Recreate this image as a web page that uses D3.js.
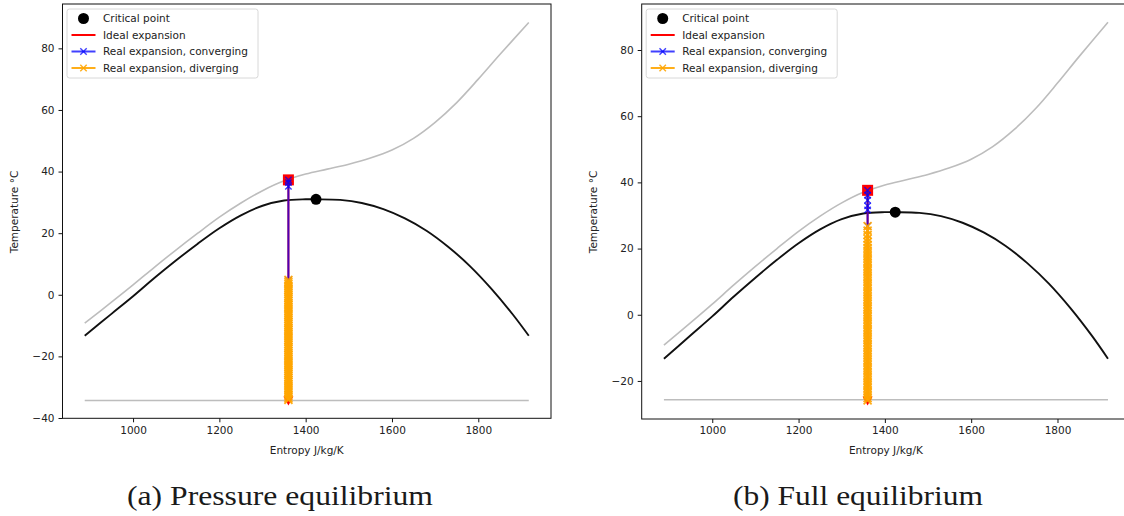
<!DOCTYPE html>
<html>
<head>
<meta charset="utf-8">
<script src="https://cdn.jsdelivr.net/npm/d3@7"></script>
<style>
  html, body { margin: 0; padding: 0; background: #fff; }
  svg { display: block; }
  .tick text { font-family: "DejaVu Sans", sans-serif; font-size: 10.5px; fill: #222; }
  .lbl { font-family: "DejaVu Sans", sans-serif; font-size: 10.5px; fill: #222; }
  .cap { font-family: "Liberation Serif", serif; font-size: 28px; fill: #1a1a1a; }
</style>
</head>
<body>
<svg id="chart" width="1124" height="516"></svg>
<script>
// Saturation dome of CO2 (entropy J/kg/K, temperature °C)
const domeEntropy = [888, 950, 1000, 1050, 1100, 1150, 1200, 1250, 1300, 1350, 1400, 1424, 1480, 1530, 1580, 1630, 1680, 1730, 1780, 1830, 1880, 1917];
const domeTemp    = [-13.3, -6.2, -0.5, 5.5, 11.2, 16.6, 21.6, 25.8, 28.9, 30.6, 31.0, 31.0, 30.8, 29.8, 27.8, 24.8, 20.8, 15.6, 9.4, 2.0, -6.4, -13.3];

// High-pressure isobar
const hiEntropy = [888, 950, 1000, 1050, 1100, 1150, 1200, 1250, 1300, 1350, 1400, 1450, 1500, 1550, 1600, 1650, 1700, 1750, 1800, 1850, 1917];
const hiTemp    = [-9.2, -2.4, 3.2, 9.0, 14.6, 20.0, 25.2, 29.8, 33.8, 37.0, 39.2, 40.8, 42.4, 44.4, 47.0, 50.8, 56.0, 62.4, 70.0, 78.0, 88.4];

// Critical point
const critical = { s: 1424, T: 31.0 };

// Expansion start (entropy is constant along both expansions)
const startEntropy = 1360;

const panels = [
  {
    caption: "(a) Pressure equilibrium",
    captionX: 280, captionWidth: 306,
    lowIsobar: -34.3,
    yTicks: [-40, -20, 0, 20, 40, 60, 80],
    yDomain: [-40.1, 94.4],
    idealTemp: [37.3, -34.3],
    convTemp: [37.3, 36.4, 35.2, 4.8],
    divTemp: [4.8, 4.1, 3.5, 2.8, 2.1, 1.5, 0.8, 0.1, -0.6, -1.2, -1.9, -2.6, -3.3, -3.9, -4.6, -5.3, -6.0, -6.6, -7.3, -8.0,
              -8.7, -9.3, -10.0, -10.7, -11.4, -12.0, -12.7, -13.4, -14.1, -14.7, -15.4, -16.1, -16.8, -17.4, -18.1, -18.8,
              -19.5, -20.1, -20.8, -21.5, -22.2, -22.8, -23.5, -24.2, -24.9, -25.5, -26.2, -26.9, -27.6, -28.2, -28.9, -29.6,
              -30.3, -30.9, -31.6, -32.3, -33.0, -33.6, -34.1],
    box: { left: 62.5, right: 551, top: 4, bottom: 418.3 }
  },
  {
    caption: "(b) Full equilibrium",
    captionX: 858, captionWidth: 250,
    lowIsobar: -25.7,
    yTicks: [-20, 0, 20, 40, 60, 80],
    yDomain: [-31.5, 93.9],
    idealTemp: [37.6, -25.9],
    convTemp: [37.6, 36.1, 34.6, 32.9, 31.7, 26.8],
    divTemp: [26.8, 25.4, 24.1, 23.0, 22.0, 21.1, 20.2, 19.4, 18.6, 17.8, 17.0, 16.2, 15.5, 14.7, 13.9, 13.2, 12.4, 11.6,
              10.9, 10.1, 9.3, 8.6, 7.8, 7.0, 6.3, 5.5, 4.7, 4.0, 3.2, 2.4, 1.7, 0.9, 0.1, -0.6, -1.4, -2.2, -2.9, -3.7,
              -4.5, -5.2, -6.0, -6.8, -7.5, -8.3, -9.1, -9.8, -10.6, -11.4, -12.1, -12.9, -13.7, -14.4, -15.2, -16.0,
              -16.7, -17.5, -18.3, -19.0, -19.8, -20.6, -21.3, -22.1, -22.9, -23.6, -24.4, -25.2, -25.9],
    box: { left: 641.7, right: 1130.2, top: 4, bottom: 419 }
  }
];

const xDomain = [836.5, 1968.5];
const xTicks = [1000, 1200, 1400, 1600, 1800];

const legendItems = [
  { label: "Critical point", kind: "dot" },
  { label: "Ideal expansion", kind: "line", color: "red" },
  { label: "Real expansion, converging", kind: "xline", color: "blue", opacity: 0.75 },
  { label: "Real expansion, diverging", kind: "xline", color: "orange", opacity: 0.9 }
];

const svg = d3.select("#chart");

function xMarker(g, x, y, r, color, opacity, width) {
  g.append("path")
    .attr("d", `M${x - r},${y - r}L${x + r},${y + r}M${x - r},${y + r}L${x + r},${y - r}`)
    .attr("stroke", color).attr("stroke-width", width).attr("stroke-opacity", opacity)
    .attr("fill", "none");
}

panels.forEach(p => {
  const b = p.box;
  const x = d3.scaleLinear().domain(xDomain).range([b.left, b.right]);
  const y = d3.scaleLinear().domain(p.yDomain).range([b.bottom, b.top]);
  const g = svg.append("g");

  const clipId = "clip" + Math.round(b.left);
  g.append("clipPath").attr("id", clipId).append("rect")
    .attr("x", b.left).attr("y", b.top).attr("width", b.right - b.left).attr("height", b.bottom - b.top);
  const plot = g.append("g").attr("clip-path", `url(#${clipId})`);

  const line = d3.line().x(d => x(d[0])).y(d => y(d[1])).curve(d3.curveCatmullRom.alpha(0.5));
  const straight = d3.line().x(d => x(d[0])).y(d => y(d[1]));

  // Isobars
  plot.append("path").datum(hiEntropy.map((s, i) => [s, hiTemp[i]]))
    .attr("d", line).attr("fill", "none").attr("stroke", "#bdbdbd").attr("stroke-width", 1.6);
  plot.append("path").datum([[domeEntropy[0], p.lowIsobar], [domeEntropy[domeEntropy.length - 1], p.lowIsobar]])
    .attr("d", straight).attr("fill", "none").attr("stroke", "#bdbdbd").attr("stroke-width", 1.6);

  // Saturation dome
  plot.append("path").datum(domeEntropy.map((s, i) => [s, domeTemp[i]]))
    .attr("d", line).attr("fill", "none").attr("stroke", "#111").attr("stroke-width", 1.9);

  // Critical point
  plot.append("circle").attr("cx", x(critical.s)).attr("cy", y(critical.T)).attr("r", 5.5).attr("fill", "#000");

  // Ideal expansion: square at the inlet, triangle at the outlet
  plot.append("path").datum(p.idealTemp.map(t => [startEntropy, t]))
    .attr("d", straight).attr("fill", "none").attr("stroke", "red").attr("stroke-width", 2);
  const tx = x(startEntropy), ty = y(p.idealTemp[1]);
  plot.append("path").attr("d", `M${tx - 5},${ty - 4}L${tx + 5},${ty - 4}L${tx},${ty + 5}Z`).attr("fill", "red");
  const sy = y(p.idealTemp[0]);
  plot.append("rect").attr("x", tx - 5.5).attr("y", sy - 5.5).attr("width", 11).attr("height", 11).attr("fill", "red");

  // Real expansion, converging
  plot.append("path").datum(p.convTemp.map(t => [startEntropy, t]))
    .attr("d", straight).attr("fill", "none").attr("stroke", "blue").attr("stroke-opacity", 0.7).attr("stroke-width", 2);
  p.convTemp.forEach(t => xMarker(plot, x(startEntropy), y(t), 3.2, "blue", 0.75, 1.4));

  // Real expansion, diverging
  plot.append("path").datum(p.divTemp.map(t => [startEntropy, t]))
    .attr("d", straight).attr("fill", "none").attr("stroke", "orange").attr("stroke-width", 2);
  p.divTemp.forEach(t => xMarker(plot, x(startEntropy), y(t), 4, "orange", 0.9, 1.8));

  // Axes
  const xAxis = d3.axisBottom(x).tickValues(xTicks).tickSize(4).tickPadding(4).tickFormat(d3.format("d"));
  const yAxis = d3.axisLeft(y).tickValues(p.yTicks).tickSize(4).tickPadding(4).tickFormat(d => d < 0 ? "\u2212" + Math.abs(d) : d);
  const gx = g.append("g").attr("transform", `translate(0,${b.bottom})`).call(xAxis);
  const gy = g.append("g").attr("transform", `translate(${b.left},0)`).call(yAxis);
  [gx, gy].forEach(a => { a.select(".domain").remove(); a.selectAll("line").attr("stroke", "#111"); });

  g.append("rect").attr("x", b.left).attr("y", b.top).attr("width", b.right - b.left).attr("height", b.bottom - b.top)
    .attr("fill", "none").attr("stroke", "#111").attr("stroke-width", 1);

  // Axis labels
  g.append("text").attr("class", "lbl").attr("x", (b.left + b.right) / 2).attr("y", 454)
    .attr("text-anchor", "middle").text("Entropy J/kg/K");
  g.append("text").attr("class", "lbl").attr("transform", `translate(${b.left - 45},212) rotate(-90)`)
    .attr("text-anchor", "middle").text("Temperature \u00b0C");

  // Legend
  const lg = g.append("g").attr("transform", `translate(${b.left + 4.5},${b.top + 5})`);
  lg.append("rect").attr("width", 191).attr("height", 69).attr("rx", 2.5)
    .attr("fill", "#fff").attr("fill-opacity", 0.85).attr("stroke", "#d8d8d8");
  legendItems.forEach((it, i) => {
    const cy = 9.5 + i * 16.5;
    if (it.kind === "dot") {
      lg.append("circle").attr("cx", 16.5).attr("cy", cy).attr("r", 5.5).attr("fill", "#000");
    } else {
      lg.append("line").attr("x1", 4.5).attr("x2", 28.5).attr("y1", cy).attr("y2", cy)
        .attr("stroke", it.color).attr("stroke-width", 2).attr("stroke-opacity", it.opacity || 1);
      if (it.kind === "xline") xMarker(lg, 16.5, cy, 3.2, it.color, it.opacity, 1.4);
    }
    lg.append("text").attr("class", "lbl").attr("x", 36).attr("y", cy + 3.8).text(it.label);
  });

  // Caption
  svg.append("text").attr("class", "cap").attr("x", p.captionX).attr("y", 505)
    .attr("text-anchor", "middle")
    .attr("textLength", p.captionWidth).attr("lengthAdjust", "spacingAndGlyphs")
    .text(p.caption);
});
</script>
</body>
</html>
